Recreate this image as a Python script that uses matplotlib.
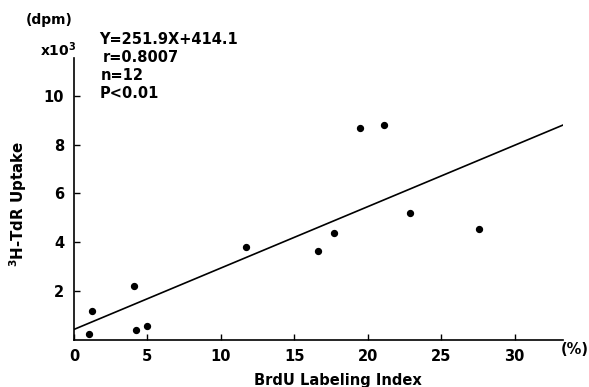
import matplotlib
matplotlib.use("Agg")
import matplotlib.pyplot as plt
import numpy as np

# Data (BrdU labeling index %, 3H-TdR uptake x10^3 dpm)
brdu = [1.0, 1.2, 4.1, 4.2, 5.0, 11.7, 16.6, 17.7, 19.5, 21.1, 22.9, 27.6]
uptake = [0.21, 1.17, 2.19, 0.39, 0.57, 3.80, 3.64, 4.38, 8.70, 8.80, 5.21, 4.52]
slope, intercept = 251.9, 414.1
x_ticks = [0, 5, 10, 15, 20, 25, 30]
y_ticks = [2, 4, 6, 8, 10]
stats = ["Y=251.9X+414.1", "r=0.8007", "n=12", "P<0.01"]

plt.rcParams['font.family'] = ['DejaVu Sans']
fig = plt.figure(figsize=(5.89, 3.87), dpi=100)
ax = fig.add_axes([0.1256, 0.1227, 0.956 - 0.1256, 0.850 - 0.1227])

ax.scatter(brdu, uptake, s=18, color='black', zorder=3)
xl = np.array([0, 33.35])
ax.plot(xl, (slope * xl + intercept) / 1000, color='black', lw=1.2)

ax.set_xlim(0, 33.3)
ax.set_ylim(0, 11.55)
ax.set_xticks(x_ticks)
ax.set_yticks(y_ticks)
ax.set_xticklabels([str(t) for t in x_ticks], fontsize=10.5, fontweight='bold')
ax.set_yticklabels([str(t) for t in y_ticks], fontsize=10.5, fontweight='bold')
ax.tick_params(direction='in', length=4, width=1, pad=7)
for s in ['top', 'right']:
    ax.spines[s].set_visible(False)
for s in ['left', 'bottom']:
    ax.spines[s].set_linewidth(1.2)

W, H = 589, 387
def ft(x, y, s, **kw):
    fig.text(x / W, 1 - y / H, s, **kw)

ft(49, 20, "(dpm)", fontsize=10, fontweight='bold', ha='center', va='center')
ft(58, 50, r"x10$^{\mathbf{3}}$", fontsize=10, fontweight='bold', ha='center', va='center')
ft(575, 350, "(%)", fontsize=10.5, fontweight='bold', ha='center', va='center')
ft(338, 380, "BrdU Labeling Index", fontsize=10.5, fontweight='bold', ha='center', va='center')
ft(18, 204, r"$^{\mathbf{3}}$H-TdR Uptake", fontsize=10.8, fontweight='bold', ha='center', va='center', rotation=90)

ys = [40, 58, 75, 93]
xs = [99, 103, 101, 100]
for s, x, y in zip(stats, xs, ys):
    ft(x, y, s, fontsize=10.5, fontweight='bold', ha='left', va='center')

fig.savefig("out.png", dpi=100)
